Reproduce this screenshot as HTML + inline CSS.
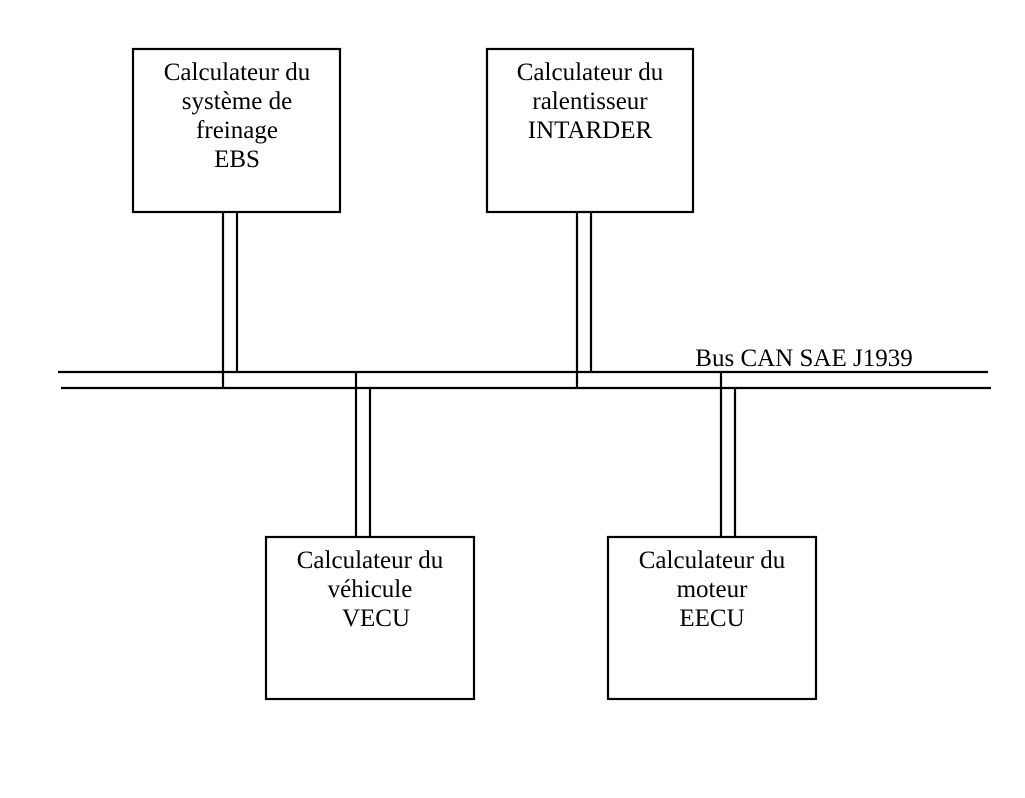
<!DOCTYPE html>
<html><head><meta charset="utf-8"><style>html,body{margin:0;padding:0;background:#fff}</style></head>
<body>
<svg width="1025" height="798" xmlns="http://www.w3.org/2000/svg" style="display:block">
<g stroke="#000" stroke-width="2.2" fill="none">
<rect x="133" y="49" width="207" height="163"/>
<rect x="487" y="49" width="206" height="163"/>
<rect x="266" y="537" width="208" height="162"/>
<rect x="608" y="537" width="208" height="162"/>
<line x1="58" y1="372" x2="988" y2="372"/>
<line x1="61" y1="388" x2="991" y2="388"/>
<line x1="223" y1="212" x2="223" y2="388"/>
<line x1="237" y1="212" x2="237" y2="372"/>
<line x1="577" y1="212" x2="577" y2="388"/>
<line x1="591" y1="212" x2="591" y2="372"/>
<line x1="356" y1="372" x2="356" y2="537"/>
<line x1="370" y1="388" x2="370" y2="537"/>
<line x1="721" y1="372" x2="721" y2="537"/>
<line x1="735" y1="388" x2="735" y2="537"/>
</g>
<g font-family="Liberation Serif, serif" font-size="25" text-anchor="middle" fill="#000">
<text x="237" y="80">Calculateur du</text>
<text x="237" y="109">système de</text>
<text x="237" y="138">freinage</text>
<text x="237" y="167">EBS</text>
<text x="590" y="80">Calculateur du</text>
<text x="590" y="109">ralentisseur</text>
<text x="590" y="138">INTARDER</text>
<text x="370" y="568">Calculateur du</text>
<text x="370" y="597">véhicule</text>
<text x="376" y="626">VECU</text>
<text x="712" y="568">Calculateur du</text>
<text x="712" y="597">moteur</text>
<text x="712" y="626">EECU</text>
<text x="804" y="366">Bus CAN SAE J1939</text>
</g>
</svg>
</body></html>
